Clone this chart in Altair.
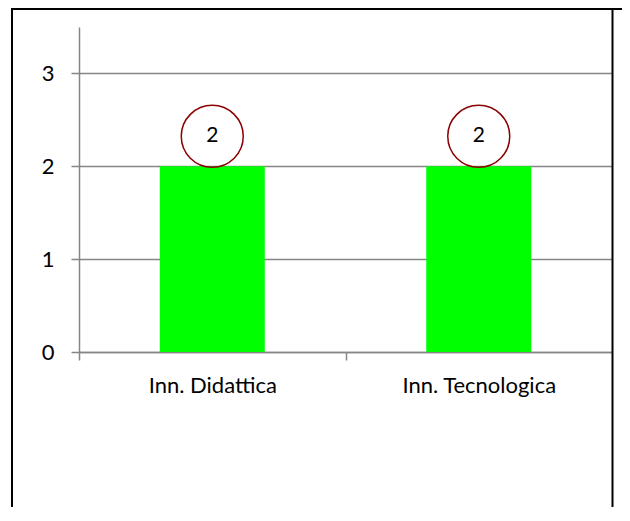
import altair as alt
import pandas as pd

categories = ["Inn. Didattica", "Inn. Tecnologica"]
values = [2, 2]
y_ticks = [0, 1, 2, 3]

df = pd.DataFrame({"cat": categories, "val": values})

W, H = 533, 325
FONT = "Lato"

x_enc = alt.X(
    "cat:N",
    sort=categories,
    scale=alt.Scale(paddingInner=0, paddingOuter=0),
    axis=alt.Axis(
        title=None, labelAngle=0, domainColor="#868686", domainWidth=1.5,
        tickColor="#868686", tickWidth=1.5, tickSize=8,
        tickOffset=-W / 4, labelOffset=W / 4,
        labelFont=FONT, labelFontSize=22, labelColor="#000000",
        labelPadding=15, grid=False,
    ),
)
y_enc = alt.Y(
    "val:Q",
    scale=alt.Scale(domain=[0, 3.5], nice=False),
    axis=alt.Axis(
        title=None, values=y_ticks, format="d", domainColor="#868686",
        domainWidth=1.5, tickColor="#868686", tickWidth=1.5, tickSize=8,
        gridColor="#868686", gridWidth=1.5, labelFont=FONT, labelFontSize=22,
        labelColor="#000000", labelPadding=17,
    ),
)

base = alt.Chart(df)
bars = base.mark_bar(color="#00FF00", size=105).encode(x=x_enc, y=y_enc)
circles = base.mark_point(
    shape="circle", filled=False, stroke="#8B0000", strokeWidth=1.5, size=3844, opacity=1
).encode(x=alt.X("cat:N", sort=categories), y=alt.Y("val:Q"), yOffset=alt.value(-30))
labels = base.mark_text(
    font=FONT, fontSize=21, color="#000000", baseline="middle", dy=-30
).encode(x=alt.X("cat:N", sort=categories), y=alt.Y("val:Q"), text=alt.Text("val:Q"))

one = alt.Data(values=[{}])
left_border = alt.Chart(one).mark_rule(color="#000000", strokeWidth=2).encode(
    x=alt.value(-67), y=alt.value(-19), y2=alt.value(480))
right_border = alt.Chart(one).mark_rule(color="#000000", strokeWidth=2).encode(
    x=alt.value(533.5), y=alt.value(-19), y2=alt.value(480))
top_border = alt.Chart(one).mark_rule(color="#000000", strokeWidth=2).encode(
    x=alt.value(-68), x2=alt.value(543), y=alt.value(-18))

chart = alt.layer(bars, circles, labels, left_border, right_border, top_border).properties(
    width=W, height=H,
    autosize=alt.AutoSizeParams(type="none"),
    padding={"left": 71, "top": 19, "right": 10, "bottom": 155},
).configure(background="#ffffff", view=alt.ViewConfig(stroke=None))

chart.save("out.html", embed_options={"renderer": "svg", "actions": False})
